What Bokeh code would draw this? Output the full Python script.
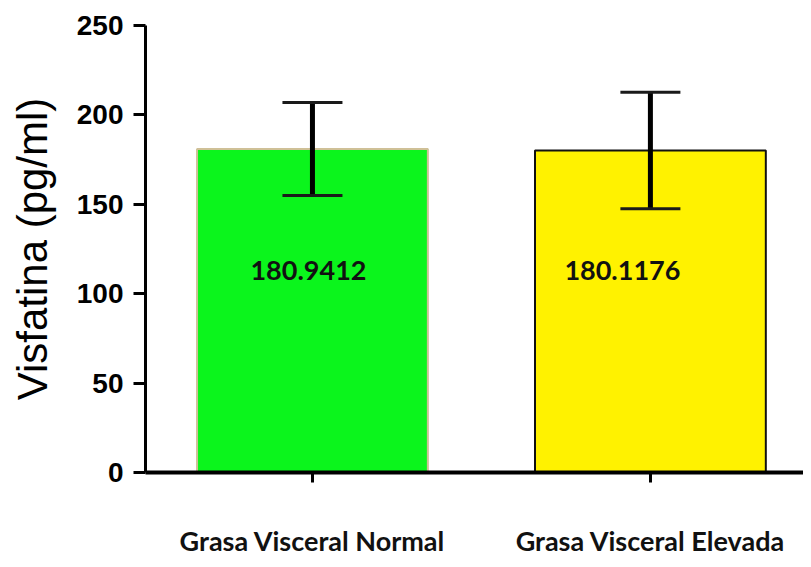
from bokeh.plotting import figure
from bokeh.models import ColumnDataSource, Whisker, TeeHead, FixedTicker, Range1d
from bokeh.core.properties import value
from bokeh.embed import file_html
from bokeh.resources import INLINE

categories = ["Grasa Visceral Normal", "Grasa Visceral Elevada"]
positions = [1, 2]
means = [180.9412, 180.1176]
sds = [26.0, 32.6]
colors = ["#0bf51c", "#fff200"]
outlines = ["#cfc097", "#111111"]
label_texts = ["180.9412", "180.1176"]
y_ticks = [0, 50, 100, 150, 200, 250]

src = ColumnDataSource(dict(
    x=positions, top=means, color=colors, outline=outlines,
    upper=[m + s for m, s in zip(means, sds)],
    lower=[m - s for m, s in zip(means, sds)],
    txt=label_texts, ty=[113, 113], xoff=[-4, -28],
))

p = figure(width=803, height=559, output_backend="svg", toolbar_location=None,
           x_range=Range1d(0.506, 2.453), y_range=Range1d(0, 250),
           min_border_left=145, min_border_right=0, min_border_top=25,
           min_border_bottom=85)
p.outline_line_color = None
p.grid.visible = False
p.background_fill_color = "white"
p.border_fill_color = "white"

p.vbar(x="x", top="top", width=0.683, bottom=0, source=src,
       fill_color="color", line_color="outline", line_width=2)

w = Whisker(base="x", upper="upper", lower="lower", source=src,
            line_color="black", line_width=5, level="overlay",
            upper_head=TeeHead(size=60, line_width=3, line_color="#1a1a1a"),
            lower_head=TeeHead(size=60, line_width=3, line_color="#1a1a1a"))
p.add_layout(w)

p.text(x="x", y="ty", text="txt", source=src, x_offset="xoff",
       text_align="center", text_baseline="middle",
       text_font=value("Lato"), text_font_style="bold",
       text_font_size="27px", text_color="#111111")

# Y axis
ya = p.yaxis[0]
ya.ticker = FixedTicker(ticks=y_ticks)
ya.axis_line_width = 3
ya.axis_line_color = "black"
ya.major_tick_line_width = 3
ya.major_tick_out = 12
ya.major_tick_in = 0
ya.minor_tick_line_color = None
ya.major_label_text_font = "Liberation Sans"
ya.major_label_text_font_style = "bold"
ya.major_label_text_font_size = "28px"
ya.major_label_text_color = "black"
ya.major_label_standoff = 10
ya.axis_label = "Visfatina (pg/ml)"
ya.axis_label_text_font = "Liberation Sans"
ya.axis_label_text_font_style = "normal"
ya.axis_label_text_font_size = "42px"
ya.axis_label_text_color = "black"
ya.axis_label_standoff = 18

# X axis
xa = p.xaxis[0]
xa.ticker = FixedTicker(ticks=positions)
xa.major_label_overrides = {pos: c for pos, c in zip(positions, categories)}
xa.axis_line_width = 4
xa.axis_line_color = "black"
xa.major_tick_line_width = 3
xa.major_tick_out = 10
xa.major_tick_in = 0
xa.minor_tick_line_color = None
xa.major_label_text_font = "Lato"
xa.major_label_text_font_style = "bold"
xa.major_label_text_font_size = "27px"
xa.major_label_text_color = "#111111"
xa.major_label_standoff = 41

open("out.html", "w").write(file_html(p, INLINE))
